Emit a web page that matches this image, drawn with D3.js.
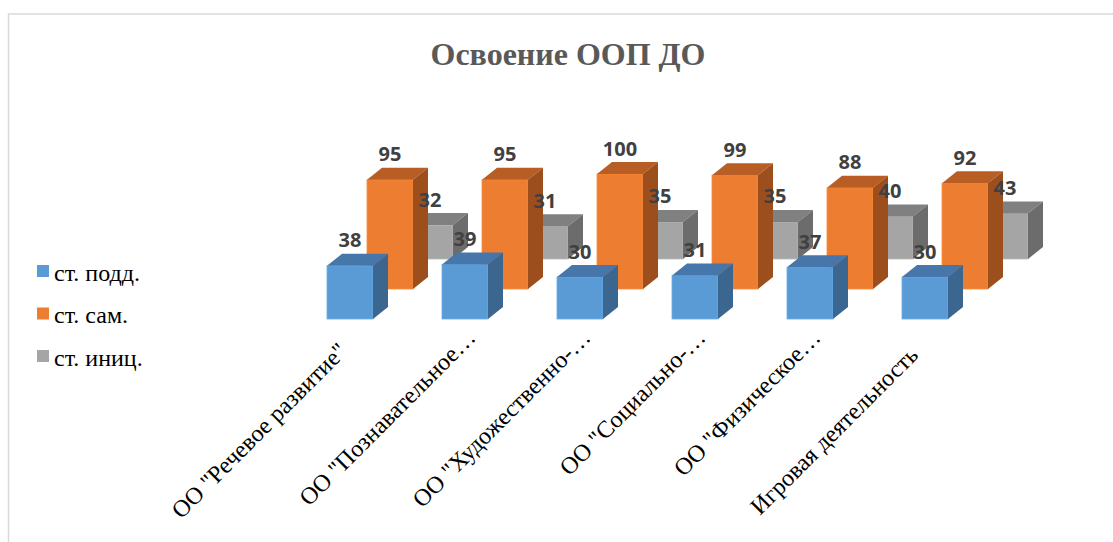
<!DOCTYPE html>
<html>
<head>
<meta charset="utf-8">
<script src="https://cdn.jsdelivr.net/npm/d3@7"></script>
<style>
  body { margin: 0; background: #fff; }
  svg { display: block; }
</style>
</head>
<body>
<svg width="1113" height="542"></svg>
<script>
// chart data
const categories = [
  'ОО "Речевое развитие"',
  'ОО "Познавательное…',
  'ОО "Художественно-…',
  'ОО "Социально-…',
  'ОО "Физическое…',
  'Игровая деятельность'
];
const seriesNames = ["ст. подд.", "ст. сам.", "ст. иниц."];
const podd = [38, 39, 30, 31, 37, 30];
const sam = [95, 95, 100, 99, 88, 92];
const inic = [32, 31, 35, 35, 40, 43];
const seriesValues = [podd, sam, inic];

// colours: front, top, side
const colors = [
  ["#5B9BD5", "#4777AA", "#3B6690"],
  ["#ED7D31", "#B85D24", "#9C4E1C"],
  ["#A5A5A5", "#808080", "#6C6C6C"]
];

var svg = d3.select("svg"),
  width = +svg.attr("width"),
  height = +svg.attr("height"),
  barW = 46,
  depthX = 15,
  depthY = 12,
  baseY = 319;

var labelFont = "'Liberation Serif', 'Times New Roman', serif";

// frame
svg.append("rect")
  .attr("x", 8.5).attr("y", 14)
  .attr("width", width + 20).attr("height", height + 20)
  .attr("fill", "#fff")
  .attr("stroke", "#d9d9d9")
  .attr("stroke-width", 1.5);

svg.append("text")
  .attr("x", 568).attr("y", 65)
  .attr("text-anchor", "middle")
  .style("font-family", labelFont)
  .style("font-weight", "bold")
  .style("font-size", "32px")
  .attr("fill", "#595959")
  .text("Освоение ООП ДО");

var x = d3.scalePoint().domain(categories).range([350, 925]);
// rows go back into the picture: shift right and up
var row = d3.scalePoint().domain(seriesNames).range([0, 1]);
var rowShiftX = d3.scaleLinear().domain([0, 1]).range([0, 80]);
var rowShiftY = d3.scaleLinear().domain([0, 1]).range([0, -60]);
// perspective: nearer rows drawn taller per unit
var yScales = [
  d3.scaleLinear().domain([0, 100]).range([0, 140]),
  d3.scaleLinear().domain([0, 100]).range([0, 115]),
  d3.scaleLinear().domain([0, 100]).range([0, 106])
];

var bars = [];
seriesNames.forEach(function(s, si) {
  seriesValues[si].forEach(function(v, ci) {
    var r = row(s);
    var x0 = x(categories[ci]) - barW / 2 + rowShiftX(r);
    var b = baseY + rowShiftY(r);
    var h = yScales[si](v);
    bars.push({ si: si, ci: ci, v: v, x0: x0, base: b, top: b - h });
  });
});
// back rows first
bars.sort(function(a, b) { return b.si - a.si || a.ci - b.ci; });

var g = svg.append("g");
var bar = g.selectAll("g.bar").data(bars).enter().append("g").attr("class", "bar");

bar.append("rect")
  .attr("x", d => d.x0).attr("y", d => d.top)
  .attr("width", barW).attr("height", d => d.base - d.top)
  .attr("fill", d => colors[d.si][0])
  .attr("stroke", d => d3.color(colors[d.si][0]).brighter(0.3))
  .attr("stroke-width", 0.8);

bar.append("path")
  .attr("d", function(d) {
    return "M" + d.x0 + "," + d.top +
      "L" + (d.x0 + depthX) + "," + (d.top - depthY) +
      "L" + (d.x0 + barW + depthX) + "," + (d.top - depthY) +
      "L" + (d.x0 + barW) + "," + d.top + "Z";
  })
  .attr("fill", d => colors[d.si][1]);

bar.append("path")
  .attr("d", function(d) {
    return "M" + (d.x0 + barW) + "," + d.top +
      "L" + (d.x0 + barW + depthX) + "," + (d.top - depthY) +
      "L" + (d.x0 + barW + depthX) + "," + (d.base - depthY) +
      "L" + (d.x0 + barW) + "," + d.base + "Z";
  })
  .attr("fill", d => colors[d.si][2]);

// data labels on top of everything
g.selectAll("text.val").data(bars).enter().append("text")
  .attr("class", "val")
  .attr("x", d => d.x0 + barW / 2)
  .attr("y", d => d.top - depthY - 6.5)
  .attr("text-anchor", "middle")
  .style("font-family", "'Open Sans', 'Liberation Sans', sans-serif")
  .style("font-weight", "bold")
  .style("font-size", "20px")
  .attr("fill", "#404040")
  .text(d => d.v);

// category labels, rotated
var catG = svg.append("g");
var cat = catG.selectAll("text.cat").data(categories).enter().append("text")
  .attr("class", "cat")
  .attr("text-anchor", "end")
  .style("font-family", labelFont)
  .style("font-size", "24px")
  .attr("fill", "#000")
  .text(d => d);

var boxW = 275;
cat.attr("transform", function(d) {
  var ax = x(d) + 12, ay = 339;
  var len = this.getComputedTextLength();
  // full labels sit centred in the label box
  var off = d.endsWith("…") ? 0 : (boxW - len) / 2;
  ax -= off * Math.SQRT1_2;
  ay += off * Math.SQRT1_2;
  return "translate(" + ax + "," + ay + ") rotate(-45)";
});

// legend
var leg = d3.scalePoint().domain(seriesNames).range([271, 356]);
var legG = svg.append("g");
legG.selectAll("rect").data(seriesNames).enter().append("rect")
  .attr("x", 37).attr("y", d => leg(d) - 6)
  .attr("width", 12).attr("height", 12)
  .attr("fill", (d, i) => colors[i][0]);
legG.selectAll("text").data(seriesNames).enter().append("text")
  .attr("x", 54).attr("y", d => leg(d) + 9.5)
  .style("font-family", labelFont)
  .style("font-size", "24px")
  .attr("fill", "#000")
  .text(d => d);
</script>
</body>
</html>
